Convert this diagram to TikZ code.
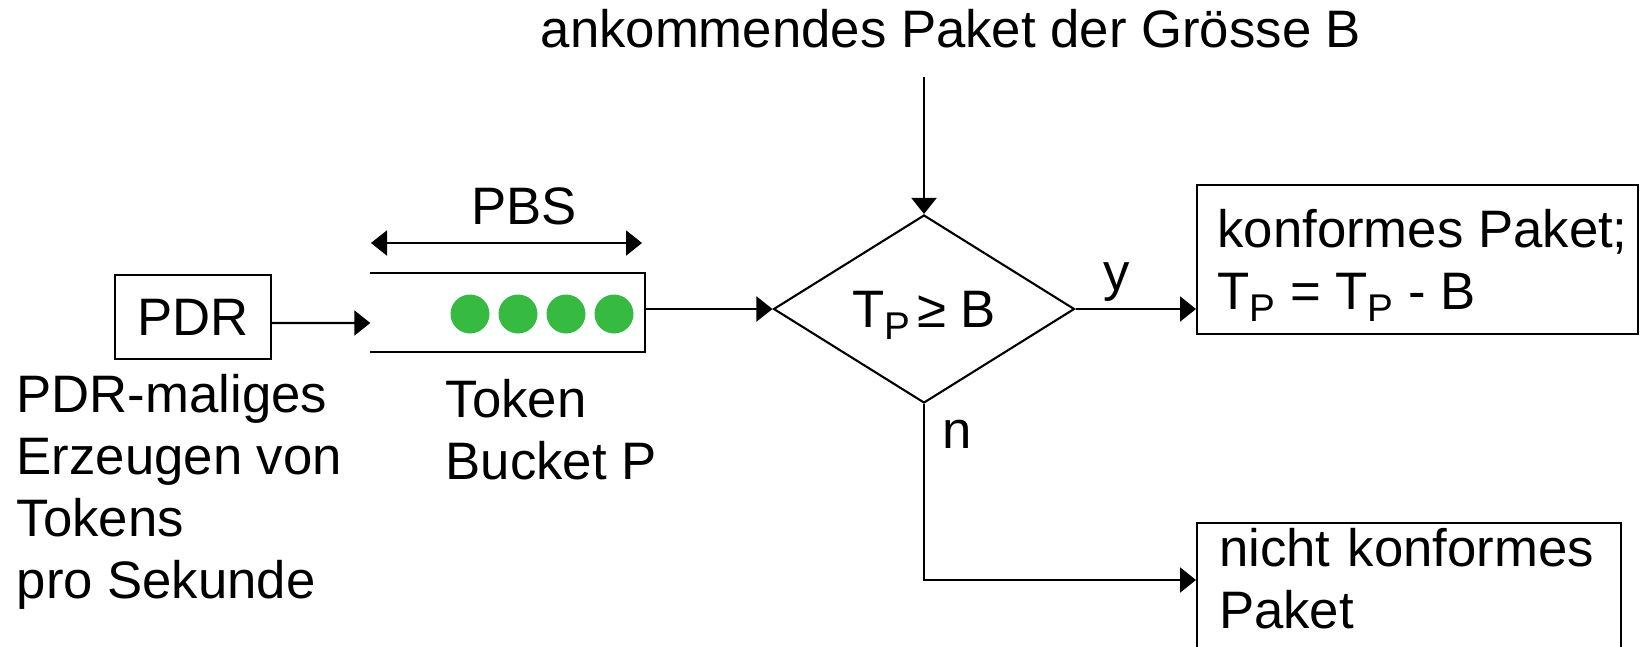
\documentclass[tikz,border=0pt]{standalone}
\usepackage{fontspec}
\setmainfont{Liberation Sans}
\usepackage{tikz}
\usetikzlibrary{arrows.meta}
\usetikzlibrary{shapes.geometric}
\usetikzlibrary{positioning}

\definecolor{tokengreen}{RGB}{54,186,66}
\newcommand{\Tp}{T\raisebox{-0.12cm}{\fontsize{11}{13}\selectfont P}}

\tikzset{
  box/.style={draw, line width=0.6pt, inner xsep=0.22cm},
  token/.style={circle, fill=tokengreen, inner sep=0pt, minimum size=0.39cm},
  arr/.style={line width=0.6pt, -{Triangle[length=0.16cm,width=0.25cm]}},
  darr/.style={line width=0.6pt, {Triangle[length=0.16cm,width=0.25cm]}-{Triangle[length=0.16cm,width=0.25cm]}}
}

\begin{document}
\begin{tikzpicture}[font=\fontsize{15}{17.6}\selectfont]
        \useasboundingbox (0,0) rectangle (16.52,6.46);
        \clip (0,0) rectangle (16.52,6.46);

        \node (title) [anchor=base] at (9.51,5.98) {ankommendes Paket der Grösse B};
        \coordinate (in) at (9.24,5.69);

        \node (pdr) [box, minimum width=1.56cm, minimum height=0.84cm] at (1.93,3.29) {PDR};
        \node (rate) [anchor=base west, align=left, inner sep=0pt] at (0.16,0.48) {PDR-maliges\\Erzeugen von\\Tokens\\pro Sekunde};

        % token bucket, open on the left
        \node (bucket) [inner sep=0pt, minimum width=2.73cm, minimum height=0.77cm] at (5.075,3.335) {};
        \draw[line width=0.6pt] (bucket.north west) -- (bucket.north east) -- (bucket.south east) -- (bucket.south west);
        \node (tok1) [token] at (4.70,3.32) {};
        \node (tok2) [token] at (5.18,3.32) {};
        \node (tok3) [token] at (5.66,3.32) {};
        \node (tok4) [token] at (6.14,3.32) {};
        \node (bucketlbl) [anchor=base west, align=left, inner sep=0pt] at (4.45,1.67) {Token\\Bucket P};

        \coordinate (pbsL) at (3.71,4.03);
        \coordinate (pbsR) at (6.42,4.03);
        \node (pbs) [anchor=base] at (5.24,4.22) {PBS};

        \node (cond) [diamond, draw, line width=0.6pt, minimum width=3.01cm, minimum height=1.88cm, inner sep=0pt, text depth=0pt] at (9.24,3.37) {\Tp\hspace{0.07cm}≥ B};
        \node (ylbl) [anchor=base] at (11.17,3.56) {y};
        \node (nlbl) [anchor=base] at (9.57,1.98) {n};

        \node (ok) [box, anchor=north west, inner xsep=0.05cm, minimum width=4.41cm, minimum height=1.49cm, text depth=0pt, align=left] at (11.96,4.62) {\hspace*{0.1cm}konformes Paket;\\\hspace*{0.1cm}\Tp{} = \Tp{} - B};
        \node (nok) [box, anchor=north west, text width=3.80cm, inner ysep=0.05cm, text depth=1.3cm, align=left] at (11.96,1.24) {nicht konformes\\Paket};

        \draw[darr] (pbsL) -- (pbsR);
        \draw[arr] (in) -- (cond.north);
        \draw[arr] ([yshift=-0.06cm]pdr.east) -- ([yshift=-0.105cm]bucket.west);
        \draw[arr] (bucket.east |- cond.west) -- (cond.west);
        \draw[arr] (cond.east) -- (cond.east -| ok.west);
        \draw[arr] (cond.south) |- ([yshift=-0.58cm]nok.north west);

\end{tikzpicture}
\end{document}
